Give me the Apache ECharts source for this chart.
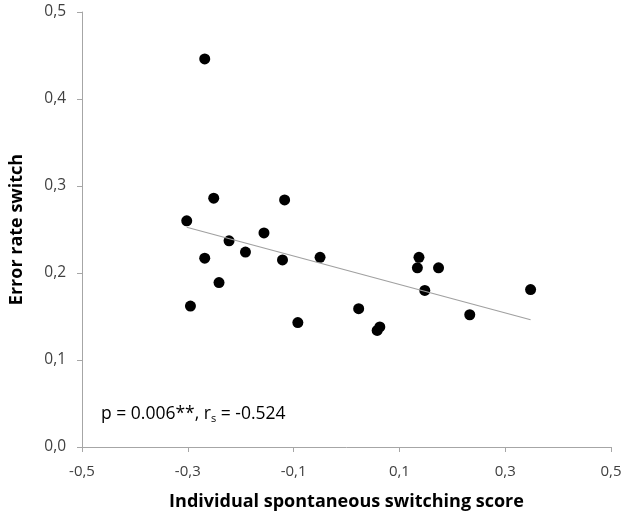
<!DOCTYPE html>
<html>
<head>
<meta charset="utf-8">
<script src="https://cdn.jsdelivr.net/npm/echarts@6/dist/echarts.min.js"></script>
<style>
  html, body { margin: 0; padding: 0; background: #fff; }
  #chart { width: 630px; height: 516px; }
</style>
</head>
<body>
<div id="chart"></div>
<script>
// switching score (x) and error rate (y)
const switchScore = [
  -0.268, -0.251, -0.117, -0.302, -0.156, -0.222, -0.191, -0.268, -0.121, -0.241, -0.295,
  -0.092, -0.050, 0.023, 0.058, 0.063, 0.137, 0.134, 0.174, 0.148, 0.233, 0.348
]
const errorRate = [
  0.446, 0.286, 0.284, 0.260, 0.246, 0.237, 0.224, 0.217, 0.215, 0.189, 0.162,
  0.143, 0.218, 0.159, 0.134, 0.138, 0.218, 0.206, 0.206, 0.180, 0.152, 0.181
]
// trend line end points
const trendX = [-0.302, 0.348]
const trendY = [0.2526, 0.1463]

const fmt = (v) => v.toFixed(1).replace('.', ',')
const font = '"Open Sans", sans-serif'

const chart = echarts.init(document.getElementById('chart'))

chart.setOption({
  animation: false,
  grid: { left: 79, right: 19, top: 12, bottom: 68 },
  xAxis: {
    type: 'value',
    min: -0.5,
    max: 0.5,
    interval: 0.2,
    name: 'Individual spontaneous switching score',
    nameLocation: 'middle',
    nameGap: 46,
    nameTextStyle: { fontFamily: font, fontWeight: 'bold', fontSize: 18, color: '#000' },
    splitLine: { show: false },
    axisLine: { onZero: false, lineStyle: { color: '#a6a6a6', width: 1 } },
    axisTick: { show: true, length: 5, lineStyle: { color: '#a6a6a6' } },
    axisLabel: { fontFamily: font, fontSize: 15, color: '#404040', margin: 17, formatter: fmt }
  },
  yAxis: {
    type: 'value',
    min: 0,
    max: 0.5,
    interval: 0.1,
    name: 'Error rate switch',
    nameLocation: 'middle',
    nameGap: 56,
    nameTextStyle: { fontFamily: font, fontWeight: 'bold', fontSize: 18, color: '#000' },
    splitLine: { show: false },
    axisLine: { show: true, onZero: false, lineStyle: { color: '#a6a6a6', width: 1 } },
    axisTick: { show: true, length: 5, lineStyle: { color: '#a6a6a6' } },
    axisLabel: { fontFamily: font, fontSize: 15.5, color: '#404040', margin: 16, formatter: fmt }
  },
  series: [
    {
      type: 'line',
      data: trendX.map((x, i) => [x, trendY[i]]),
      showSymbol: false,
      lineStyle: { color: '#a0a0a0', width: 1.2 },
      silent: true
    },
    {
      type: 'scatter',
      data: switchScore.map((x, i) => [x, errorRate[i]]),
      symbol: 'circle',
      symbolSize: 11,
      itemStyle: { color: '#000', opacity: 1 }
    }
  ],
  graphic: [
    {
      type: 'text',
      left: 101,
      top: 405,
      style: {
        text: 'p = 0.006**, r{sub|s} = -0.524',
        font: '17.5px ' + font,
        fill: '#000',
        rich: {
          sub: { fontSize: 11, fontFamily: font, padding: [9, 0, 0, 0], fill: '#000' }
        }
      }
    }
  ]
})
</script>
</body>
</html>
